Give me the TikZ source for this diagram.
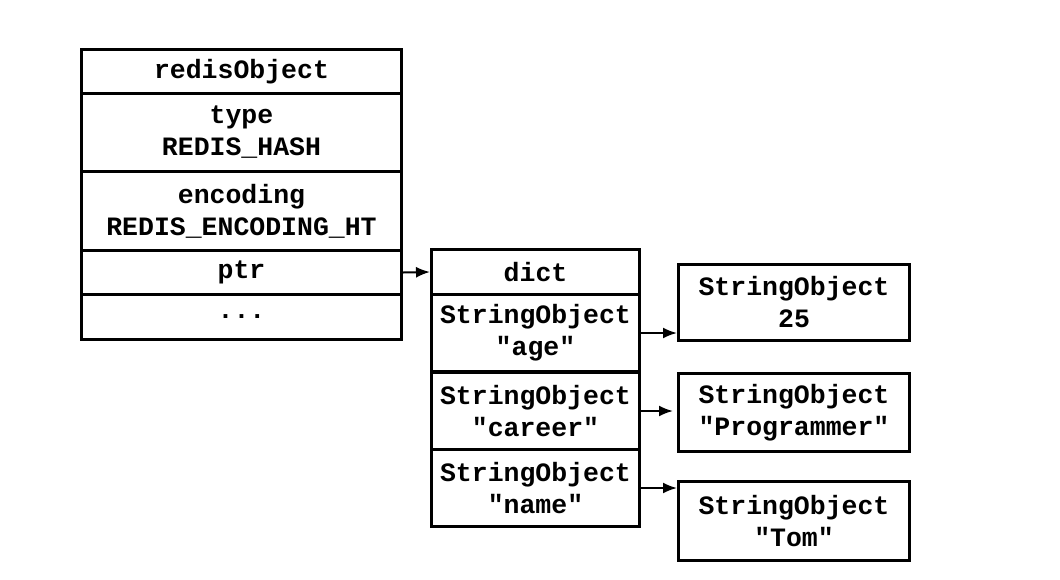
\documentclass[tikz,border=0pt]{standalone}
\usepackage{fontspec}
\setmonofont{Liberation Mono}
\usetikzlibrary{arrows.meta}

\tikzset{cell/.style={draw, line width=3pt, inner sep=0pt, anchor=north west, align=center, font=\fontsize{26.5}{32}\selectfont\ttfamily\bfseries},
 link/.style={line width=2pt, -{Latex[length=14pt,width=11pt]}}}

\begin{document}
\begin{tikzpicture}[x=1pt,y=-1pt]
 \useasboundingbox (0,0) rectangle (1060,579);
 % redisObject
 \node[cell, minimum width=320, minimum height=44] (obj) at (80,48) {redisObject};
 \node[cell, minimum width=320, minimum height=78] (type) at (80,92) {type\\REDIS\_HASH};
 \node[cell, minimum width=320, minimum height=79] (enc) at (80,170) {encoding\\REDIS\_ENCODING\_HT};
 \node[cell, minimum width=320, minimum height=44] (ptr) at (80,249) {ptr};
 \node[cell, minimum width=320, minimum height=45] (more) at (80,293) {...};
 % dict
 \node[cell, minimum width=208, minimum height=45] (dict) at (430,248) {dict};
 \foreach \k/\y/\t in {age/293/"age", career/371/"career", name/448/"name"} \node[cell, minimum width=208, minimum height=77] (\k) at (430,\y) {StringObject\\\t};
 % values
 \node[cell, minimum width=231, minimum height=76] (v25) at (677,263) {StringObject\\25};
 \node[cell, minimum width=231, minimum height=78] (vprog) at (677,372) {StringObject\\"Programmer"};
 \node[cell, minimum width=231, minimum height=79] (vtom) at (677,480) {StringObject\\"Tom"};
 \draw[link] (ptr.east) -- (dict.west);
 \draw[link] (age.east) -- (age.east -| v25.west);
 \draw[link, shorten >=4pt] (career.east) -- (career.east -| vprog.west);
 \draw[link] (name.east) -- (name.east -| vtom.west);
\end{tikzpicture}
\end{document}
